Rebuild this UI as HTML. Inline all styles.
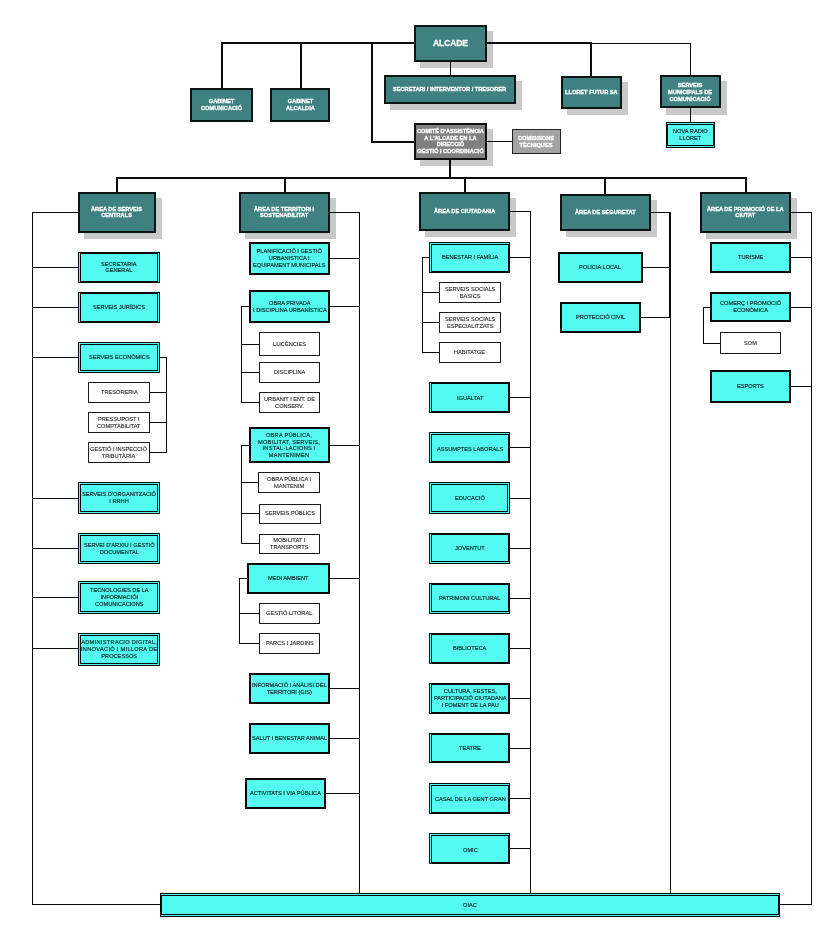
<!DOCTYPE html>
<html><head><meta charset="utf-8"><title>Organigrama</title>
<style>
html,body{margin:0;padding:0;background:#fff;}
body{width:821px;height:943px;position:relative;overflow:hidden;font-family:"Liberation Sans",sans-serif;}
.l{position:absolute;background:#0a0a0a;}
.b{position:absolute;box-sizing:border-box;display:flex;align-items:center;justify-content:center;text-align:center;white-space:nowrap;font-size:5.65px;line-height:6.85px;color:#0c2626;-webkit-text-stroke:0.17px #0c2626;}
.teal{background:#3f8080;border:2px solid #0c1414;color:#fff;font-weight:bold;-webkit-text-stroke:0.3px #fff;}
.grayd{background:#808080;border:2px solid #111;color:#fff;font-weight:bold;-webkit-text-stroke:0.3px #fff;}
.grayl{background:#a3a3a3;border:1px solid #222;color:#fff;font-weight:bold;-webkit-text-stroke:0.3px #fff;}
.cy{background:#54faf0;}
.dbl{border:3px double #0a0a0a;}
.lr{border:3px double #0a0a0a;border-top:2px solid #0a0a0a;border-bottom:2px solid #0a0a0a;}
.ld{border:2px solid #0a0a0a;border-left:3px double #0a0a0a;}
.ltd{border:2px solid #0a0a0a;border-left:3px double #0a0a0a;border-top:3px double #0a0a0a;}
.lbd{border:2px solid #0a0a0a;border-left:3px double #0a0a0a;border-bottom:3px double #0a0a0a;}
.tb{border:3px double #0a0a0a;border-left:2px solid #0a0a0a;border-right:2px solid #0a0a0a;}
.sol{border:2px solid #0a0a0a;}
.wh{background:#fff;border:1px solid #1a1a1a;color:#2a2a2a;-webkit-text-stroke:0.13px #2a2a2a;}
.b span{will-change:transform;}
.s{position:absolute;background:#c9c9c9;}
</style></head><body>

<div class="s" style="left:420px;top:31px;width:73px;height:37px"></div>
<div class="s" style="left:390px;top:81px;width:132px;height:29px"></div>
<div class="s" style="left:567px;top:82px;width:61px;height:33px"></div>
<div class="s" style="left:666px;top:81px;width:61px;height:33px"></div>
<div class="s" style="left:420px;top:129px;width:73px;height:37px"></div>
<div class="s" style="left:84px;top:198px;width:78px;height:41px"></div>
<div class="s" style="left:245px;top:198px;width:91px;height:41px"></div>
<div class="s" style="left:425px;top:198px;width:91px;height:39px"></div>
<div class="s" style="left:566px;top:200px;width:91px;height:37px"></div>
<div class="s" style="left:706px;top:198px;width:91px;height:41px"></div>
<div class="s" style="left:666px;top:113px;width:61px;height:2px"></div>
<div class="l" style="left:221px;top:42px;width:193px;height:2px"></div>
<div class="l" style="left:487px;top:42px;width:105.4px;height:2px"></div>
<div class="l" style="left:592px;top:43px;width:99px;height:1px"></div>
<div class="l" style="left:221px;top:42px;width:2px;height:46.5px"></div>
<div class="l" style="left:300px;top:42px;width:2px;height:46.5px"></div>
<div class="l" style="left:370.7px;top:42px;width:2px;height:101px"></div>
<div class="l" style="left:371px;top:141px;width:43.5px;height:2px"></div>
<div class="l" style="left:449.6px;top:61px;width:1.6px;height:15px"></div>
<div class="l" style="left:590.4px;top:42px;width:2px;height:35px"></div>
<div class="l" style="left:690.1px;top:43px;width:1px;height:32.5px"></div>
<div class="l" style="left:690.1px;top:107px;width:1px;height:15.5px"></div>
<div class="l" style="left:486.5px;top:141px;width:26px;height:1px"></div>
<div class="l" style="left:449.3px;top:159px;width:2px;height:19px"></div>
<div class="l" style="left:116px;top:176.6px;width:631.3px;height:2px"></div>
<div class="l" style="left:116px;top:177px;width:2px;height:16px"></div>
<div class="l" style="left:284px;top:177px;width:2px;height:16px"></div>
<div class="l" style="left:464px;top:177px;width:2px;height:16px"></div>
<div class="l" style="left:604px;top:177px;width:2px;height:18px"></div>
<div class="l" style="left:745.3px;top:177px;width:2px;height:16px"></div>
<div class="l" style="left:31.9px;top:212px;width:1px;height:692.7px"></div>
<div class="l" style="left:32px;top:211.9px;width:47px;height:1px"></div>
<div class="l" style="left:32px;top:903.7px;width:129px;height:1px"></div>
<div class="l" style="left:32px;top:266.7px;width:47px;height:1px"></div>
<div class="l" style="left:32px;top:307px;width:47px;height:1px"></div>
<div class="l" style="left:32px;top:357px;width:47px;height:1px"></div>
<div class="l" style="left:32px;top:497.7px;width:47px;height:1px"></div>
<div class="l" style="left:32px;top:547.7px;width:47px;height:1px"></div>
<div class="l" style="left:32px;top:596.6px;width:47px;height:1px"></div>
<div class="l" style="left:32px;top:648.3px;width:47px;height:1px"></div>
<div class="l" style="left:159px;top:357px;width:8px;height:1px"></div>
<div class="l" style="left:166.1px;top:357px;width:1px;height:95.7px"></div>
<div class="l" style="left:149.5px;top:391.8px;width:17.5px;height:1px"></div>
<div class="l" style="left:149.5px;top:422px;width:17.5px;height:1px"></div>
<div class="l" style="left:149.5px;top:451.7px;width:17.5px;height:1px"></div>
<div class="l" style="left:359.1px;top:211.6px;width:1px;height:682.4px"></div>
<div class="l" style="left:329px;top:211.6px;width:31px;height:1px"></div>
<div class="l" style="left:329px;top:257.7px;width:31px;height:1px"></div>
<div class="l" style="left:329px;top:305.9px;width:31px;height:1px"></div>
<div class="l" style="left:329px;top:444.7px;width:31px;height:1px"></div>
<div class="l" style="left:329px;top:577.7px;width:31px;height:1px"></div>
<div class="l" style="left:329px;top:687.6px;width:31px;height:1px"></div>
<div class="l" style="left:329px;top:738px;width:31px;height:1px"></div>
<div class="l" style="left:325px;top:793px;width:35px;height:1px"></div>
<div class="l" style="left:241.4px;top:306px;width:1px;height:96.6px"></div>
<div class="l" style="left:241.4px;top:305.9px;width:8.6px;height:1px"></div>
<div class="l" style="left:241.4px;top:343.9px;width:18.6px;height:1px"></div>
<div class="l" style="left:241.4px;top:371.7px;width:18.6px;height:1px"></div>
<div class="l" style="left:241.4px;top:401.6px;width:18.6px;height:1px"></div>
<div class="l" style="left:241.4px;top:444.7px;width:1px;height:99.2px"></div>
<div class="l" style="left:241.4px;top:444.7px;width:8.6px;height:1px"></div>
<div class="l" style="left:241.4px;top:481.5px;width:18.6px;height:1px"></div>
<div class="l" style="left:241.4px;top:512.9px;width:18.6px;height:1px"></div>
<div class="l" style="left:241.4px;top:542.9px;width:18.6px;height:1px"></div>
<div class="l" style="left:239px;top:577.7px;width:1px;height:66.3px"></div>
<div class="l" style="left:239px;top:577.7px;width:9px;height:1px"></div>
<div class="l" style="left:239px;top:612.6px;width:21px;height:1px"></div>
<div class="l" style="left:239px;top:643px;width:21px;height:1px"></div>
<div class="l" style="left:529.8px;top:211px;width:1px;height:683px"></div>
<div class="l" style="left:509px;top:211px;width:21.8px;height:1px"></div>
<div class="l" style="left:509px;top:256.5px;width:21.8px;height:1px"></div>
<div class="l" style="left:509px;top:396.8px;width:21.8px;height:1px"></div>
<div class="l" style="left:509px;top:446.7px;width:21.8px;height:1px"></div>
<div class="l" style="left:509px;top:497.6px;width:21.8px;height:1px"></div>
<div class="l" style="left:509px;top:547.8px;width:21.8px;height:1px"></div>
<div class="l" style="left:509px;top:597.7px;width:21.8px;height:1px"></div>
<div class="l" style="left:509px;top:647.7px;width:21.8px;height:1px"></div>
<div class="l" style="left:509px;top:697.6px;width:21.8px;height:1px"></div>
<div class="l" style="left:509px;top:747.8px;width:21.8px;height:1px"></div>
<div class="l" style="left:509px;top:798px;width:21.8px;height:1px"></div>
<div class="l" style="left:509px;top:847.7px;width:21.8px;height:1px"></div>
<div class="l" style="left:421.9px;top:256.5px;width:1px;height:96.2px"></div>
<div class="l" style="left:421.9px;top:256.5px;width:8.1px;height:1px"></div>
<div class="l" style="left:421.9px;top:292px;width:18.1px;height:1px"></div>
<div class="l" style="left:421.9px;top:322px;width:18.1px;height:1px"></div>
<div class="l" style="left:421.9px;top:351.7px;width:18.1px;height:1px"></div>
<div class="l" style="left:650px;top:211.9px;width:20.8px;height:1px"></div>
<div class="l" style="left:668.9px;top:211.5px;width:2px;height:106.5px"></div>
<div class="l" style="left:669.9px;top:317px;width:1px;height:577px"></div>
<div class="l" style="left:642px;top:266.7px;width:28px;height:1px"></div>
<div class="l" style="left:640px;top:316.9px;width:30px;height:1px"></div>
<div class="l" style="left:811px;top:212px;width:1px;height:692.6px"></div>
<div class="l" style="left:790.5px;top:212px;width:21.5px;height:1px"></div>
<div class="l" style="left:779px;top:903.6px;width:33px;height:1px"></div>
<div class="l" style="left:790.5px;top:256.7px;width:21.5px;height:1px"></div>
<div class="l" style="left:790.5px;top:306.8px;width:21.5px;height:1px"></div>
<div class="l" style="left:790.5px;top:385.5px;width:21.5px;height:1px"></div>
<div class="l" style="left:703.1px;top:306.8px;width:1px;height:37px"></div>
<div class="l" style="left:703.1px;top:306.8px;width:7.9px;height:1px"></div>
<div class="l" style="left:703.1px;top:342.8px;width:17.9px;height:1px"></div>
<div class="b teal sh" style="left:414px;top:25px;width:73px;height:37px;font-size:8.6px;letter-spacing:-0.15px"><span>ALCADE</span></div>
<div class="b teal sh" style="left:384px;top:75px;width:132px;height:29px;"><span>SECRETARI / INTERVENTOR / TRESORER</span></div>
<div class="b teal sh" style="left:561px;top:76px;width:61px;height:33px;"><span>LLORET FUTUR SA</span></div>
<div class="b teal sh" style="left:660px;top:75px;width:61px;height:33px;line-height:6.9px"><span style="position:relative;top:0.7px">SERVEIS<br>MUNICIPALS DE<br>COMUNICACIÓ</span></div>
<div class="b teal" style="left:190px;top:88px;width:63px;height:34px;"><span>GABINET<br>COMUNICACIÓ</span></div>
<div class="b teal" style="left:270px;top:88px;width:60px;height:34px;"><span>GABINET<br>ALCALDIA</span></div>
<div class="b grayd sh" style="left:414px;top:123px;width:73px;height:37px;line-height:6.6px"><span>COMITÉ D'ASSISTÈNCIA<br>A L'ALCADE EN LA<br>DIRECCIÓ<br>GESTIÓ I COORDINACIÓ</span></div>
<div class="b grayl" style="left:512px;top:129px;width:49px;height:25px;"><span style="position:relative;top:0.3px">COMISSIONS<br>TÈCNIQUES</span></div>
<div class="b cy tb" style="left:666px;top:122px;width:49px;height:26px;line-height:7px"><span style="position:relative;top:-0.5px">NOVA RADIO<br>LLORET</span></div>
<div class="b teal sh" style="left:78px;top:192px;width:78px;height:41px;line-height:5.9px"><span>ÀREA DE SERVEIS<br>CENTRALS</span></div>
<div class="b teal sh" style="left:239px;top:192px;width:91px;height:41px;line-height:5.9px"><span>ÀREA DE TERRITORI I<br>SOSTENABILITAT</span></div>
<div class="b teal sh" style="left:419px;top:192px;width:91px;height:39px;line-height:5.9px"><span style="position:relative;top:0.3px">ÀREA DE CIUTADANIA</span></div>
<div class="b teal sh" style="left:560px;top:194px;width:91px;height:37px;line-height:5.9px"><span>ÀREA DE SEGURETAT</span></div>
<div class="b teal sh" style="left:700px;top:192px;width:91px;height:41px;line-height:5.9px"><span>ÀREA DE PROMOCIÓ DE LA<br>CIUTAT</span></div>
<div class="b cy lr" style="left:78px;top:252px;width:82px;height:31px;line-height:5.7px"><span>SECRETARIA<br>GENERAL</span></div>
<div class="b cy lr" style="left:78px;top:292px;width:82px;height:31px;"><span>SERVEIS JURÍDICS</span></div>
<div class="b cy dbl" style="left:78px;top:342px;width:82px;height:31px;"><span>SERVEIS ECONÒMICS</span></div>
<div class="b cy dbl" style="left:78px;top:482px;width:82px;height:32px;"><span>SERVEIS D'ORGANITZACIÓ<br>I RRHH</span></div>
<div class="b cy dbl" style="left:78px;top:533px;width:82px;height:31px;"><span>SERVEI D'ARXIU I GESTIÓ<br>DOCUMENTAL</span></div>
<div class="b cy dbl" style="left:78px;top:581px;width:82px;height:33px;"><span>TECNOLOGIES DE LA<br>INFORMACIÓI<br>COMUNICACIONS</span></div>
<div class="b cy dbl" style="left:78px;top:633px;width:82px;height:33px;"><span><span style="letter-spacing:0.3px">ADMINISTRACIO DIGITAL,<br>INNOVACIÓ I MILLORA DE</span><br>PROCESSOS</span></div>
<div class="b wh" style="left:88px;top:382px;width:62px;height:21px;"><span>TRESORERIA</span></div>
<div class="b wh" style="left:88px;top:412px;width:62px;height:21px;"><span>PRESSUPOST I<br>COMPTABILITAT</span></div>
<div class="b wh" style="left:88px;top:442px;width:62px;height:21px;"><span>GESTIÓ I INSPECCIÓ<br>TRIBUTÀRIA</span></div>
<div class="b cy sol" style="left:249px;top:242px;width:81px;height:33px;"><span>PLANIFICACIÓ I GESTIÓ<br>URBANISTICA I<br>EQUIPAMENT MUNICIPALS</span></div>
<div class="b cy sol" style="left:249px;top:290px;width:81px;height:33px;"><span>OBRA PRIVADA<br>I DISCIPLINA URBANÍSTICA</span></div>
<div class="b cy sol" style="left:249px;top:427px;width:81px;height:36px;line-height:6.6px;letter-spacing:0.25px"><span>OBRA PÚBLICA,<br>MOBILITAT, SERVEIS,<br>INSTAL·LACIONS I<br>MANTENIMEN</span></div>
<div class="b cy sol" style="left:247px;top:563px;width:83px;height:31px;"><span>MEDI AMBIENT</span></div>
<div class="b cy sol" style="left:249px;top:673px;width:81px;height:31px;"><span>INFORMACIÓ I ANÀLISI DEL<br>TERRITORI (GIS)</span></div>
<div class="b cy sol" style="left:249px;top:723px;width:81px;height:31px;"><span>SALUT I BENESTAR ANIMAL</span></div>
<div class="b cy sol" style="left:245px;top:778px;width:81px;height:31px;"><span>ACTIVITATS I VIA PÚBLICA</span></div>
<div class="b wh" style="left:259px;top:332px;width:61px;height:24px;"><span>LLICÈNCIES</span></div>
<div class="b wh" style="left:259px;top:362px;width:61px;height:21px;"><span>DISCIPLINA</span></div>
<div class="b wh" style="left:259px;top:392px;width:61px;height:21px;"><span>URBANIT I ENT. DE<br>CONSERV.</span></div>
<div class="b wh" style="left:258px;top:472px;width:62px;height:21px;"><span>OBRA PÚBLICA I<br>MANTENIM</span></div>
<div class="b wh" style="left:259px;top:504px;width:62px;height:20px;"><span style="position:relative;top:-1px">SERVEIS PÚBLICS</span></div>
<div class="b wh" style="left:259px;top:534px;width:61px;height:20px;"><span style="position:relative;top:-0.5px">MOBILITAT I<br>TRANSPORTS</span></div>
<div class="b wh" style="left:259px;top:603px;width:61px;height:21px;"><span>GESTIÓ LITORAL</span></div>
<div class="b wh" style="left:259px;top:633px;width:61px;height:21px;"><span>PARCS I JARDINS</span></div>
<div class="b cy ltd" style="left:429px;top:242px;width:81px;height:31px;"><span style="position:relative;top:-0.5px">BENESTAR I FAMÍLIA</span></div>
<div class="b cy ld" style="left:429px;top:382px;width:81px;height:31px;"><span style="position:relative;top:0.5px">IGUALTAT</span></div>
<div class="b cy ltd" style="left:429px;top:432px;width:81px;height:31px;"><span style="position:relative;top:1px">ASSUMPTES LABORALS</span></div>
<div class="b cy dbl" style="left:429px;top:482px;width:81px;height:32px;"><span>EDUCACIÓ</span></div>
<div class="b cy lbd" style="left:429px;top:533px;width:81px;height:31px;"><span>JOVENTUT</span></div>
<div class="b cy lbd" style="left:429px;top:583px;width:81px;height:31px;"><span>PATRIMONI CULTURAL</span></div>
<div class="b cy ld" style="left:429px;top:633px;width:81px;height:31px;"><span>BIBLIOTECA</span></div>
<div class="b cy ld" style="left:429px;top:683px;width:81px;height:31px;"><span>CULTURA, FESTES,<br>PARTICIPACIÓ CIUTADANA<br>I FOMENT DE LA PAU</span></div>
<div class="b cy ld" style="left:429px;top:733px;width:81px;height:30px;"><span>TEATRE</span></div>
<div class="b cy ltd" style="left:429px;top:783px;width:81px;height:31px;"><span>CASAL DE LA GENT GRAN</span></div>
<div class="b cy ltd" style="left:429px;top:833px;width:81px;height:31px;"><span style="position:relative;top:1px">OMIC</span></div>
<div class="b wh" style="left:439px;top:282px;width:62px;height:21px;"><span>SERVEIS SOCIALS<br>BASICS</span></div>
<div class="b wh" style="left:439px;top:312px;width:62px;height:21px;"><span>SERVEIS SOCIALS<br>ESPECIALITZATS</span></div>
<div class="b wh" style="left:439px;top:342px;width:62px;height:21px;"><span>HABITATGE</span></div>
<div class="b cy sol" style="left:558px;top:252px;width:85px;height:31px;"><span>POLICIA LOCAL</span></div>
<div class="b cy sol" style="left:560px;top:302px;width:81px;height:31px;"><span>PROTECCIÓ CIVIL</span></div>
<div class="b cy sol" style="left:710px;top:242px;width:81px;height:31px;"><span>TURISME</span></div>
<div class="b cy sol" style="left:710px;top:292px;width:81px;height:30px;"><span>COMERÇ I PROMOCIÓ<br>ECONÒMICA</span></div>
<div class="b wh" style="left:720px;top:332px;width:61px;height:22px;"><span>SOM</span></div>
<div class="b cy sol" style="left:710px;top:370px;width:81px;height:33px;"><span>ESPORTS</span></div>
<div class="b cy tb" style="left:160px;top:893px;width:620px;height:24px;"><span>OIAC</span></div>
</body></html>
